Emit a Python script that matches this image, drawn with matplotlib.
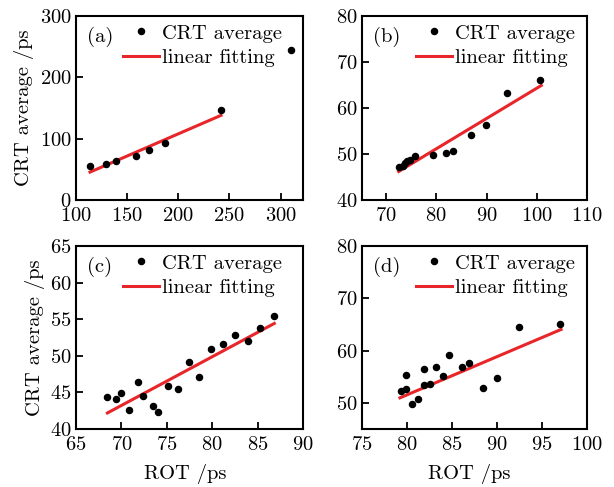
import matplotlib
matplotlib.use("Agg")
import matplotlib.pyplot as plt
from matplotlib.lines import Line2D

plt.rcParams['font.family'] = ['cmr10', 'DejaVu Serif']
plt.rcParams['mathtext.fontset'] = 'cm'
plt.rcParams['axes.formatter.use_mathtext'] = True

# ---- data: ROT (ps) vs CRT average (ps) ----
rot_a = [113.7, 129.4, 139.2, 158.8, 171.2, 186.9, 241.8, 309.8]
crt_a = [56.0, 58.8, 64.3, 71.4, 81.9, 92.3, 146.2, 244.5]
fit_a_x = [113.7, 241.8]
fit_a_y = [45.5, 138.0]

rot_b = [72.5, 73.3, 73.8, 74.2, 74.7, 75.8, 79.4, 81.9, 83.4, 86.9, 89.9, 94.1, 100.7]
crt_b = [47.2, 47.4, 48.0, 48.4, 48.7, 49.5, 49.7, 50.3, 50.6, 54.2, 56.4, 63.2, 66.1]
fit_b_x = [72.5, 100.9]
fit_b_y = [46.2, 64.9]

rot_c = [68.46, 69.41, 69.93, 70.88, 71.88, 72.43, 73.46, 74.01, 75.11, 76.21,
         77.43, 78.60, 79.85, 81.14, 82.50, 83.90, 85.29, 86.76]
crt_c = [44.38, 44.15, 44.93, 42.65, 46.48, 44.56, 43.10, 42.37, 45.89, 45.43,
         49.17, 47.07, 50.95, 51.63, 52.82, 52.09, 53.73, 55.37]
fit_c_x = [68.46, 86.84]
fit_c_y = [42.19, 54.42]

rot_d = [79.30, 79.93, 79.93, 80.55, 81.22, 81.89, 81.89, 82.55, 83.26, 83.96,
         84.66, 86.10, 86.85, 88.40, 89.95, 92.46, 97.04]
crt_d = [52.22, 52.60, 55.28, 49.81, 50.77, 56.57, 53.37, 53.64, 56.89, 55.23,
         59.06, 56.89, 57.66, 52.80, 54.79, 64.42, 65.00]
fit_d_x = [79.22, 97.12]
fit_d_y = [50.96, 64.04]

panels = [
    dict(tag="(a)", x=rot_a, y=crt_a, fx=fit_a_x, fy=fit_a_y,
         xlim=(100, 322), ylim=(0, 300), xt=[100, 150, 200, 250, 300], yt=[0, 100, 200, 300]),
    dict(tag="(b)", x=rot_b, y=crt_b, fx=fit_b_x, fy=fit_b_y,
         xlim=(65.2, 110), ylim=(40, 80), xt=[70, 80, 90, 100, 110], yt=[40, 50, 60, 70, 80]),
    dict(tag="(c)", x=rot_c, y=crt_c, fx=fit_c_x, fy=fit_c_y,
         xlim=(65, 90), ylim=(40, 65), xt=[65, 70, 75, 80, 85, 90], yt=[40, 45, 50, 55, 60, 65]),
    dict(tag="(d)", x=rot_d, y=crt_d, fx=fit_d_x, fy=fit_d_y,
         xlim=(75, 100), ylim=(45, 80), xt=[75, 80, 85, 90, 95, 100], yt=[50, 60, 70, 80]),
]

W, H = 614, 487
fig = plt.figure(figsize=(W / 100, H / 100), dpi=100)

# axes boxes in pixels: left, right, top, bottom
boxes = [(76, 303, 16, 200), (362, 587, 16, 200), (76, 303, 246, 429), (362, 587, 246, 429)]
legend_x = [0.943, 0.982, 0.943, 0.982]
xlabel_x = [None, None, 0.48, 0.475]

RED = '#e8262a'
FS = 14.8
MS = 4.4

for i, (p, (l, r, t, b)) in enumerate(zip(panels, boxes)):
    ax = fig.add_axes([l / W, (H - b) / H, (r - l) / W, (b - t) / H])
    ax.plot(p['x'], p['y'], 'o', color='black', markersize=MS, linestyle='none', zorder=3)
    ax.plot(p['fx'], p['fy'], '-', color=RED, linewidth=2.2, zorder=2)
    ax.set_xlim(*p['xlim'])
    ax.set_ylim(*p['ylim'])
    ax.set_xticks(p['xt'])
    ax.set_yticks(p['yt'])
    ax.tick_params(direction='in', length=5, width=1.3, labelsize=FS,
                   top=False, right=False)
    ax.tick_params(axis='x', pad=5)
    ax.tick_params(axis='y', pad=3)
    for s in ax.spines.values():
        s.set_linewidth(1.5)
    ax.text(0.05, 0.885, p['tag'], transform=ax.transAxes, fontsize=FS,
            ha='left', va='center')
    handles = [
        Line2D([], [], marker='o', color='black', markersize=MS, linestyle='none'),
        Line2D([], [], color=RED, linewidth=2.2),
    ]
    ax.legend(handles, ['CRT average', 'linear fitting'], loc='upper right',
              bbox_to_anchor=(legend_x[i], 1.0), frameon=False, fontsize=FS,
              handlelength=1.75, handletextpad=0.15, labelspacing=0.3,
              borderaxespad=0.2, borderpad=0.2)
    if i % 2 == 0:
        ax.set_ylabel('CRT average /ps', fontsize=FS, labelpad=4)
    if i >= 2:
        ax.set_xlabel('ROT /ps', fontsize=FS, labelpad=4)
        ax.xaxis.set_label_coords(xlabel_x[i], -0.19)

fig.savefig('out.png', dpi=100)
